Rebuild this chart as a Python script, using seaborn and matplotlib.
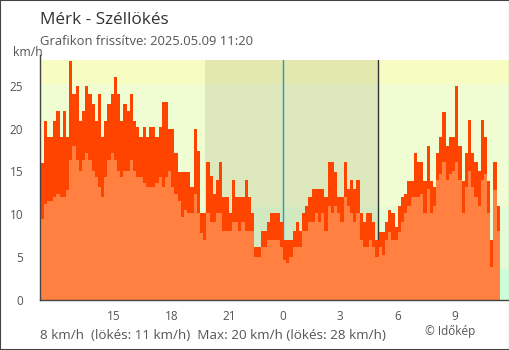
import numpy as np
import pandas as pd
import matplotlib
matplotlib.use("Agg")
import matplotlib.pyplot as plt
import matplotlib.transforms as mtransforms
from matplotlib.patches import Rectangle
import seaborn as sns

# ---- data (10-minute samples, 11:20 previous day -> 11:20) ----
gust = [16.0, 20.9, 19.0, 19.0, 20.9, 22.1, 19.0, 22.1, 19.0, 27.9,
        24.0, 25.0, 20.9, 22.1, 25.0, 24.0, 22.9, 20.9, 24.0, 19.0,
        20.9, 22.9, 24.0, 26.0, 24.0, 20.9, 22.9, 22.1, 24.0, 20.9,
        20.2, 19.0, 20.2, 19.0, 20.2, 20.2, 19.0, 20.2, 23.1, 23.1,
        20.0, 20.0, 17.1, 14.9, 14.9, 14.9, 14.9, 13.2, 20.0, 17.4,
        10.1, 10.1, 16.1, 14.5, 12.4, 14.0, 16.1, 12.0, 12.0, 10.1,
        14.0, 12.0, 12.0, 12.0, 14.0, 12.0, 10.1, 6.2, 6.2, 8.1,
        8.1, 9.1, 10.1, 10.1, 10.1, 9.1, 7.0, 7.0, 7.0, 8.1,
        9.1, 8.1, 10.1, 11.0, 12.0, 13.0, 13.0, 13.0, 13.0, 12.0,
        16.1, 16.1, 14.9, 12.0, 12.0, 16.1, 13.0, 14.0, 13.0, 14.0,
        10.1, 9.1, 10.1, 10.1, 9.1, 7.0, 7.9, 7.9, 9.1, 10.5,
        10.1, 8.5, 11.0, 12.0, 12.4, 13.9, 13.9, 17.1, 16.1, 16.1,
        13.9, 18.0, 13.9, 13.2, 17.1, 19.0, 21.9, 18.0, 19.0, 19.0,
        25.0, 18.0, 13.9, 17.1, 21.0, 17.1, 16.1, 15.1, 21.0, 19.0,
        13.9, 7.0, 16.1, 11.0]
wind = [9.5, 11.2, 11.6, 11.6, 12.0, 12.4, 12.0, 12.0, 12.8, 16.3,
        18.0, 16.3, 15.1, 16.3, 17.1, 16.3, 15.1, 14.3, 13.2, 12.0,
        14.3, 16.3, 17.1, 16.3, 15.1, 14.3, 15.1, 15.1, 16.3, 15.1,
        14.3, 14.3, 13.6, 13.2, 13.2, 13.2, 13.6, 14.3, 13.2, 14.3,
        15.1, 13.2, 12.4, 11.6, 9.7, 10.5, 10.1, 10.1, 12.4, 10.1,
        7.8, 7.0, 10.1, 9.1, 9.1, 10.1, 10.1, 8.1, 8.1, 8.1,
        9.1, 9.1, 8.1, 9.1, 8.1, 8.1, 8.1, 5.0, 5.0, 6.2,
        6.2, 7.0, 7.0, 7.0, 7.0, 6.2, 4.7, 4.3, 5.0, 6.2,
        6.2, 6.2, 8.1, 8.1, 9.1, 9.1, 10.1, 9.1, 10.1, 8.1,
        11.0, 10.1, 11.0, 10.1, 9.1, 12.0, 11.0, 10.1, 9.1, 10.1,
        7.0, 6.2, 6.2, 7.0, 6.2, 5.0, 6.2, 5.2, 7.0, 7.9,
        7.0, 7.0, 7.9, 9.1, 10.1, 11.0, 12.0, 12.0, 12.0, 12.4,
        10.1, 13.0, 10.1, 11.0, 14.0, 14.7, 16.1, 14.0, 14.7, 15.1,
        16.1, 14.0, 10.1, 13.2, 15.1, 13.2, 12.0, 11.0, 14.0, 14.7,
        10.1, 3.9, 12.8, 8.0]
start_hour = -12 - 40 / 60          # 11:20 of previous day, relative to midnight
x_ticks = [start_hour, -9, -6, -3, 0, 3, 6, 9]
x_tick_labels = ["", "15", "18", "21", "0", "3", "6", "9"]
y_ticks = [0, 5, 10, 15, 20, 25]
band_edges = [0, 3.6, 10.8, 25.2, 28]
band_colors = ["#cdfcd9", "#e3fcd6", "#f0fdd2", "#f6fcc2"]
night = (-4.06, 4.94)
marker_lines = [4.94]

title = "Mérk - Széllökés"
subtitle = "Grafikon frissítve: 2025.05.09 11:20"
footer = "8 km/h  (lökés: 11 km/h)  Max: 20 km/h (lökés: 28 km/h)"
credit = "© Időkép"

n = len(gust)
t = start_hour + np.arange(n) / 6.0
df = pd.DataFrame({"t": t + 1 / 12, "gust": gust, "wind": wind})

sns.set_style("white")
plt.rcParams["font.family"] = ["Open Sans", "DejaVu Sans"]

fig = plt.figure(figsize=(5.1, 3.5), dpi=100)
ax = fig.add_axes([40.5 / 510, 50 / 350, 468.5 / 510, 240 / 350])

for lo, hi, c in zip(band_edges[:-1], band_edges[1:], band_colors):
    ax.axhspan(lo, hi, color=c, lw=0, zorder=0)
ax.axvspan(night[0], night[1], color="#3a3a00", alpha=0.10, lw=0, zorder=0.5)
for xv in marker_lines:
    ax.axvline(xv, color="#333333", lw=1, zorder=0.8)
ax.axvline(0, color="#2a93e0", lw=1, zorder=0.8)

brange = (start_hour, start_hour + n / 6.0)
sns.histplot(data=df, x="t", weights="gust", binwidth=1 / 6, binrange=brange,
             element="step", fill=True, color="#ff4400", alpha=1, linewidth=0,
             ax=ax, zorder=2)
sns.histplot(data=df, x="t", weights="wind", binwidth=1 / 6, binrange=brange,
             element="step", fill=True, color="#ff8040", alpha=1, linewidth=0,
             ax=ax, zorder=3)

ax.set_xlim(start_hour, 11.81)
ax.set_ylim(0, 28)
ax.set_xlabel("")
ax.set_ylabel("")
ax.set_xticks(x_ticks)
ax.set_xticklabels(x_tick_labels)
ax.set_yticks(y_ticks)
ax.set_yticklabels([str(v) for v in y_ticks])
for s in ["top", "right"]:
    ax.spines[s].set_visible(False)
for s in ["left", "bottom"]:
    ax.spines[s].set_color("#444444")
    ax.spines[s].set_linewidth(1)
    ax.spines[s].set_zorder(5)
ax.spines["left"].set_bounds(0, 28.6)
ax.tick_params(axis="y", direction="inout", length=9, width=1, color="#444444",
               labelsize=8.5, labelcolor="#555555", pad=8)
ax.tick_params(axis="x", direction="out", length=4.5, width=1, color="#444444",
               labelsize=8.5, labelcolor="#555555", pad=3)
xt = ax.xaxis.get_major_ticks()
xt[4].tick1line.set_color("#2a93e0")
shift = mtransforms.ScaledTranslation(-3.5 / 100, 0, fig.dpi_scale_trans)
for lab in ax.get_xticklabels():
    lab.set_horizontalalignment("left")
    lab.set_transform(lab.get_transform() + shift)

fig.text(40 / 510, 1 - 24 / 350, title, fontsize=12.3, color="#333333", va="baseline")
fig.text(40 / 510, 1 - 45 / 350, subtitle, fontsize=9.4, color="#555555", va="baseline")
fig.text(13 / 510, 1 - 55.5 / 350, "km/h", fontsize=8.8, color="#555555", va="baseline")
fig.text(40 / 510, 1 - 339 / 350, footer, fontsize=9.7, color="#555555", va="baseline")
fig.text(425 / 510, 1 - 335.5 / 350, credit, fontsize=8.5, color="#555555", va="baseline")

fig.patches.append(Rectangle((0, 0), 1, 1, transform=fig.transFigure, fill=False,
                             edgecolor="#444444", lw=1.5, zorder=10))

fig.savefig("out.png", dpi=100)
